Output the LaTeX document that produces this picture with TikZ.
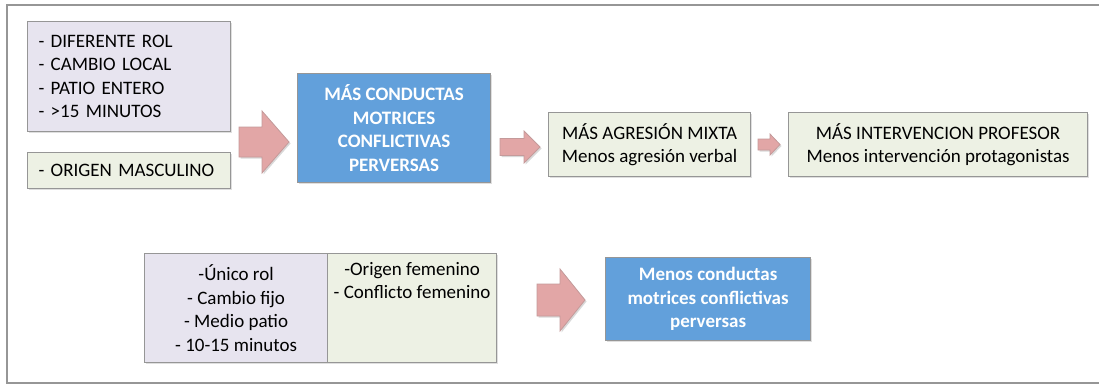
\documentclass[tikz,border=0pt]{standalone}
\usepackage{fontspec}
\setmainfont{Carlito}
\usetikzlibrary{shadows}

\definecolor{lila}{RGB}{231,228,239}
\definecolor{verdoso}{RGB}{237,241,228}
\definecolor{azul}{RGB}{98,160,219}
\definecolor{rosa}{RGB}{226,166,166}
\definecolor{gris}{RGB}{150,150,150}

\begin{document}
\begin{tikzpicture}[
  x=1pt,y=-1pt,
  font=\fontsize{19}{23.5}\selectfont,
  caja/.style={draw=gris,line width=1.2pt,anchor=north west,inner sep=0pt,
    drop shadow={opacity=.25,shadow xshift=1.2pt,shadow yshift=-1.2pt}},
  cajalila/.style={caja,fill=lila},
  cajaverde/.style={caja,fill=verdoso},
  cajaazul/.style={caja,fill=azul,text=white,font=\fontsize{19}{23.5}\selectfont\bfseries,align=center},
  flecha/.style={draw=rosa!70!gray,fill=rosa,line width=.8pt,line join=miter,
    drop shadow={opacity=.3,shadow xshift=1.5pt,shadow yshift=-1.5pt}},
]
  \useasboundingbox (0,0) rectangle (1099,385);
  % marco exterior
  \draw[gris,line width=2pt] (1099,5) -- (7,5) -- (7,383) -- (1099,383);

  % fila superior
  \node[cajalila,minimum width=203pt,minimum height=110pt,align=left,text width=181pt]
    (factA) at (27,21) {- DIFERENTE ROL\\- CAMBIO LOCAL\\- PATIO ENTERO\\- >15 MINUTOS};
  \node[cajaverde,minimum width=203pt,minimum height=36pt,align=left,text width=181pt]
    (factB) at (27,152) {- ORIGEN MASCULINO};
  \draw[flecha] (239,127) -- (262,127) -- (262,111) -- (289,142) -- (262,173) -- (262,157)
    -- (239,157) -- cycle;
  \node[cajaazul,minimum width=193pt,minimum height=109pt]
    (masConductas) at (297,73) {MÁS CONDUCTAS\\MOTRICES\\CONFLICTIVAS\\PERVERSAS};
  \draw[flecha] (500,138.5) -- (524,138.5) -- (524,131) -- (540,147) -- (524,163) -- (524,155.5)
    -- (500,155.5) -- cycle;
  \node[cajaverde,minimum width=202pt,minimum height=64pt,align=center]
    (agresion) at (548,112) {MÁS AGRESIÓN MIXTA\\Menos agresión verbal};
  \draw[flecha] (758,139) -- (770,139) -- (770,134) -- (780,144.5) -- (770,155) -- (770,150)
    -- (758,150) -- cycle;
  \node[cajaverde,minimum width=299pt,minimum height=64pt,align=center]
    (intervencion) at (788,112) {MÁS INTERVENCION PROFESOR\\Menos intervención protagonistas};

  % fila inferior
  \node[cajalila,minimum width=183pt,minimum height=109pt,align=center]
    (factE) at (144,253) {-Único rol\\- Cambio fijo\\- Medio patio\\- 10-15 minutos};
  \node[cajaverde,minimum width=169pt,minimum height=109pt]
    (factF) at (327,253) {};
  \node[anchor=north,align=center,inner sep=0pt] (factFtxt) at ([yshift=-9pt]factF.north)
    {-Origen femenino\\- Conflicto femenino};
  \draw[flecha] (537,284) -- (560,284) -- (560,269) -- (585,300) -- (560,331) -- (560,316)
    -- (537,316) -- cycle;
  \node[cajaazul,minimum width=205pt,minimum height=83pt]
    (menosConductas) at (605,257) {Menos conductas\\motrices conflictivas\\perversas};
\end{tikzpicture}
\end{document}
